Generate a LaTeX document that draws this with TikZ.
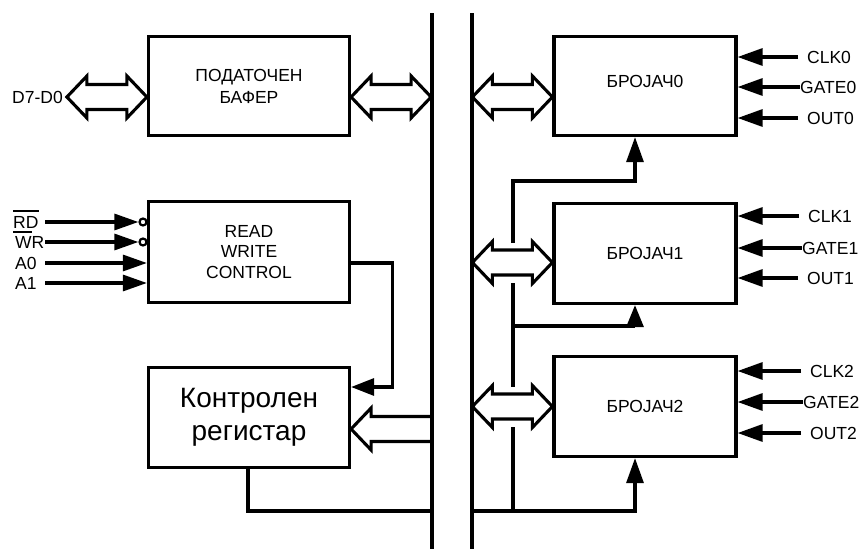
\documentclass[tikz,border=0pt]{standalone}
\usepackage{fontspec}
\setmainfont{Liberation Sans}
\usetikzlibrary{arrows.meta,calc}
\begin{document}
\begin{tikzpicture}[x=1pt,y=-1pt,
  box/.style={draw, line width=3.2pt, inner sep=0pt, align=center},
  txt/.style={font=\fontsize{17.5}{22}\selectfont},
  lbl/.style={font=\fontsize{17.5}{21}\selectfont, inner sep=0pt},
  wire/.style={line width=3.1pt},
  busline/.style={line width=3.3pt},
  sig/.style={wire, -{Triangle[length=24pt,width=16pt]}},
  inv/.style={circle, draw, line width=2.2pt, fill=white, minimum size=7pt, inner sep=0pt},
  pics/dblbus/.style={code={
    \draw[wire, fill=white] (0,0) -- (20,-21) -- (20,-12.5) -- (60,-12.5) -- (60,-21)
      -- (80,0) -- (60,21) -- (60,12.5) -- (20,12.5) -- (20,21) -- cycle;}}
]
\path[use as bounding box] (0,0) rectangle (860,549);

% internal buses
\coordinate (L1) at (432,13);
\coordinate (L2) at (432,549);
\coordinate (R1) at (472,13);
\coordinate (R2) at (472,549);
\coordinate (bot) at (0,511);
\coordinate (tap) at (513,0);
\coordinate (instart) at (45,0);
\draw[busline] (L1) -- (L2);
\draw[busline] (R1) -- (R2);

% blocks
\node[box, txt, minimum width=201pt, minimum height=99pt] (buf) at (249,86) {ПОДАТОЧЕН\\БАФЕР};
\node[box, font=\fontsize{17.5}{20.5}\selectfont, minimum width=201pt, minimum height=101pt] (rwc) at (249,252) {READ\\WRITE\\CONTROL};
\node[box, font=\fontsize{28}{33}\selectfont, minimum width=201pt, minimum height=100pt] (reg) at (249,417.5) {Контролен\\регистар};
\node[box, minimum width=182pt, minimum height=99pt,
  label={[txt, yshift=5pt]center:БРОЈАЧ0}] (cnt0) at (645,86) {};
\node[box, txt, minimum width=182pt, minimum height=100pt] (cnt1) at (645,253.5) {БРОЈАЧ1};
\node[box, txt, minimum width=182pt, minimum height=100pt] (cnt2) at (645,406.5) {БРОЈАЧ2};

% data bus arrows
\node[lbl, anchor=east] (dlab) at (63,97) {D7-D0};
\pic at ([xshift=-80pt,yshift=-11pt]buf.west) {dblbus};
\pic at ([yshift=-11pt]buf.east) {dblbus};
\pic at ([xshift=-80pt,yshift=-11pt]cnt0.west) {dblbus};

% control inputs
\node[lbl, anchor=west] (rd) at (13,222) {RD};
\node[lbl, anchor=west] (wr) at (15,242) {WR};
\node[lbl, anchor=west] (a0) at (15,263) {A0};
\node[lbl, anchor=west] (a1) at (15,283) {A1};
\draw[line width=2pt] ([yshift=5pt]rd.north west) -- ([yshift=5pt]rd.north east);
\draw[line width=2pt] ([yshift=-4pt]rd.south west) -- ++(19,0);
\node[inv] (inv1) at (143,222) {};
\node[inv] (inv2) at (143,242) {};
\draw[sig] (instart |- rd.east) -- (inv1.west);
\draw[sig] (instart |- wr.east) -- (inv2.west);
\draw[sig] (instart |- a0.east) -- (rwc.west |- a0.east);
\draw[sig] (instart |- a1.east) -- (rwc.west |- a1.east);

% read/write control to control register
\draw[wire, -{Triangle[length=23pt,width=17pt]}] ([yshift=-11pt]rwc.east) -- ++(41,0) |- ([yshift=30.5pt]reg.east);

% bus into control register
\coordinate (regin) at ([yshift=-11.5pt]reg.east);
\draw[wire] ($(regin -| L1)+(0,-12.5)$) -- ($(regin)+(20,-12.5)$) -- ++(0,-8.5) -- (regin)
  -- ++(20,21) -- ++(0,-8.5) -- ($(regin -| L1)+(0,12.5)$);

% control register back to the bus
\draw[wire] ([xshift=-1pt]reg.south) |- (L1 |- bot);

% counter gate lines
\draw[wire, -{Triangle[length=25pt,width=17pt]}] (tap |- 0,243) -- (tap |- 0,181) -| ([xshift=-10pt]cnt0.south);
\draw[wire] (tap |- 0,283) -- (tap |- 0,387);
\draw[wire, -{Triangle[length=22pt,width=17pt]}] (tap |- 0,326) -| ([xshift=-10pt]cnt1.south);
\draw[wire] (tap |- 0,427) -- (tap |- bot);
\draw[wire, -{Triangle[length=25pt,width=17pt]}] (R1 |- bot) -| ([xshift=-10pt]cnt2.south);

% counter bus arrows
\pic at ([xshift=-80pt,yshift=-9pt]cnt1.west) {dblbus};
\pic at ([xshift=-80pt]cnt2.west) {dblbus};

% counter signals
\node[lbl, anchor=west] (clk0) at (807,57) {CLK0};
\node[lbl, anchor=west] (gate0) at (800,87) {GATE0};
\node[lbl, anchor=west] (out0) at (807,118) {OUT0};
\node[lbl, anchor=west] (clk1) at (808,216) {CLK1};
\node[lbl, anchor=west] (gate1) at (802,248) {GATE1};
\node[lbl, anchor=west] (out1) at (807,278) {OUT1};
\node[lbl, anchor=west] (clk2) at (810,371) {CLK2};
\node[lbl, anchor=west] (gate2) at (803,402) {GATE2};
\node[lbl, anchor=west] (out2) at (810,433) {OUT2};
\foreach \s/\c in {clk0/cnt0, out0/cnt0, clk1/cnt1, out1/cnt1, clk2/cnt2, out2/cnt2}
  \draw[wire, -{Triangle[length=25pt,width=17pt]}] ([xshift=-9pt]\s.west) -- (\s.west -| \c.east);
\foreach \s/\c in {gate0/cnt0, gate1/cnt1, gate2/cnt2}
  \draw[wire, -{Triangle[length=25pt,width=17pt]}] (\s.west) -- (\s.west -| \c.east);
\end{tikzpicture}
\end{document}
